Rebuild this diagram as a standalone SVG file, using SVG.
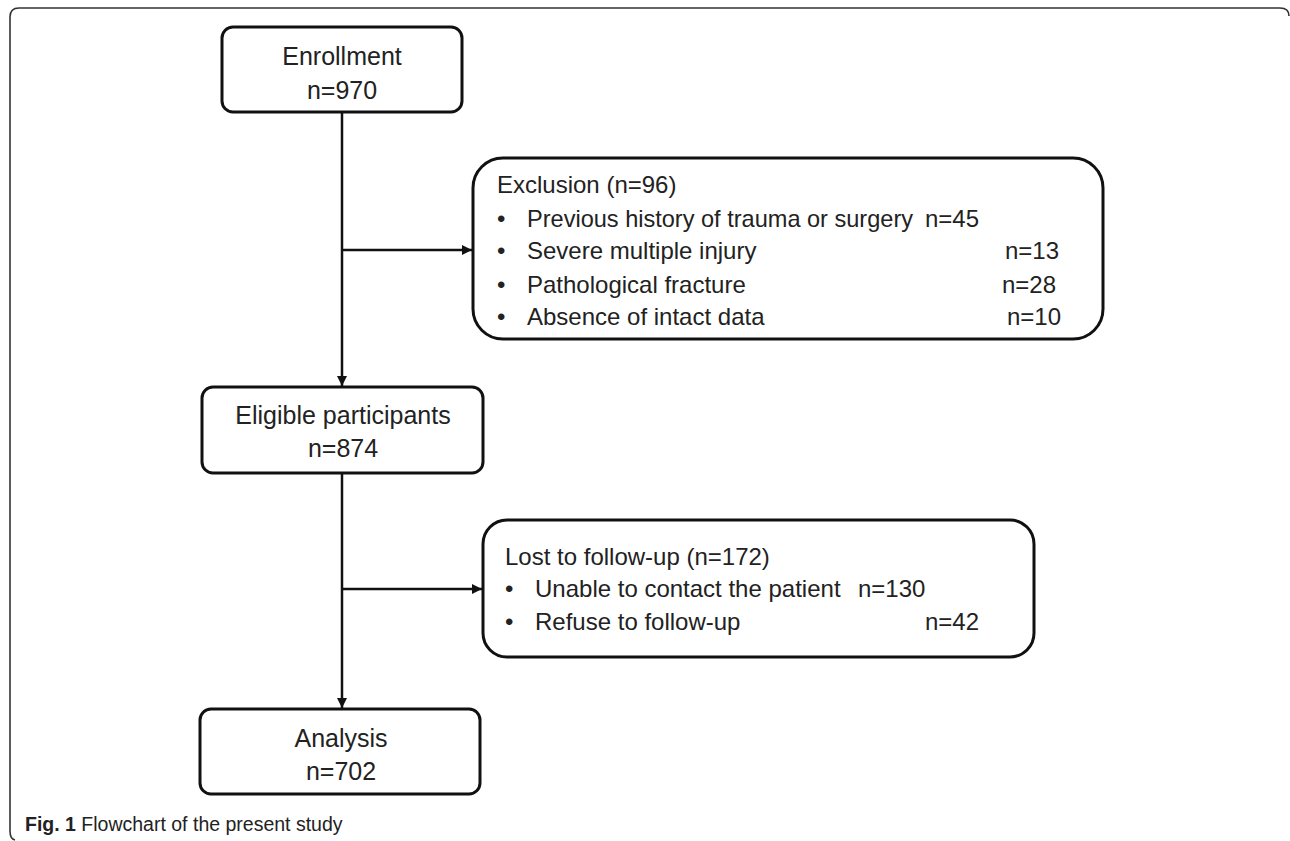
<svg xmlns="http://www.w3.org/2000/svg" width="1290" height="841" viewBox="0 0 1290 841">
<style>
.box{fill:#fff;stroke:#111;stroke-width:3}
.t{font-family:"Liberation Sans",Arial,sans-serif;fill:#222}
.c{font-size:25px;text-anchor:middle}
.l{font-size:24px}
.edge{stroke:#111;stroke-width:2.5;fill:none}
.cap{font-family:"Liberation Sans",Arial,sans-serif;font-size:19.5px;fill:#222}
</style>
<defs>
<marker id="ah" viewBox="0 0 10 10" refX="10" refY="5" markerWidth="4.4" markerHeight="4" markerUnits="strokeWidth" orient="auto">
<path d="M0,0 L10,5 L0,10 z" fill="#111"/>
</marker>
</defs>
<rect width="1290" height="841" fill="#fff"/>
<path d="M1289,16 Q1289,8 1280,8 L19,8 Q10,8 10,17 L10,831 Q10,839 15,840" fill="none" stroke="#333" stroke-width="1.6"/>

<g id="connectors">
<line class="edge" x1="342" y1="112" x2="342" y2="386" marker-end="url(#ah)"/>
<line class="edge" x1="342" y1="250" x2="472" y2="250" marker-end="url(#ah)"/>
<line class="edge" x1="342" y1="473" x2="342" y2="708" marker-end="url(#ah)"/>
<line class="edge" x1="342" y1="589" x2="482" y2="589" marker-end="url(#ah)"/>
</g>

<g id="enrollment">
<rect class="box" x="222" y="27" width="240" height="85" rx="11"/>
<text class="t c" x="342" y="65">Enrollment</text>
<text class="t c" x="342" y="99">n=970</text>
</g>

<g id="exclusion">
<rect class="box" x="473" y="158" width="630" height="181" rx="30"/>
<text class="t l" x="497" y="193">Exclusion (n=96)</text>
<text class="t l" x="497" y="227">•</text>
<text class="t l" x="527" y="227" textLength="386" lengthAdjust="spacingAndGlyphs">Previous history of trauma or surgery</text>
<text class="t l" x="925" y="227">n=45</text>
<text class="t l" x="497" y="259">•</text>
<text class="t l" x="527" y="259">Severe multiple injury</text>
<text class="t l" x="1005" y="259">n=13</text>
<text class="t l" x="497" y="293">•</text>
<text class="t l" x="527" y="293">Pathological fracture</text>
<text class="t l" x="1002" y="293">n=28</text>
<text class="t l" x="497" y="325">•</text>
<text class="t l" x="527" y="325">Absence of intact data</text>
<text class="t l" x="1007" y="325">n=10</text>
</g>

<g id="eligible">
<rect class="box" x="202" y="387" width="281" height="86" rx="11"/>
<text class="t c" x="343" y="424">Eligible participants</text>
<text class="t c" x="343" y="457">n=874</text>
</g>

<g id="lost">
<rect class="box" x="483" y="520" width="551" height="137" rx="24"/>
<text class="t l" x="505" y="565">Lost to follow-up (n=172)</text>
<text class="t l" x="505" y="597">•</text>
<text class="t l" x="535" y="597">Unable to contact the patient</text>
<text class="t l" x="858" y="597">n=130</text>
<text class="t l" x="505" y="630">•</text>
<text class="t l" x="535" y="630">Refuse to follow-up</text>
<text class="t l" x="925" y="630">n=42</text>
</g>

<g id="analysis">
<rect class="box" x="200" y="709" width="280" height="85" rx="11"/>
<text class="t c" x="341" y="747">Analysis</text>
<text class="t c" x="341" y="780">n=702</text>
</g>

<text class="cap" x="25" y="831"><tspan font-weight="bold">Fig. 1</tspan> Flowchart of the present study</text>
</svg>
